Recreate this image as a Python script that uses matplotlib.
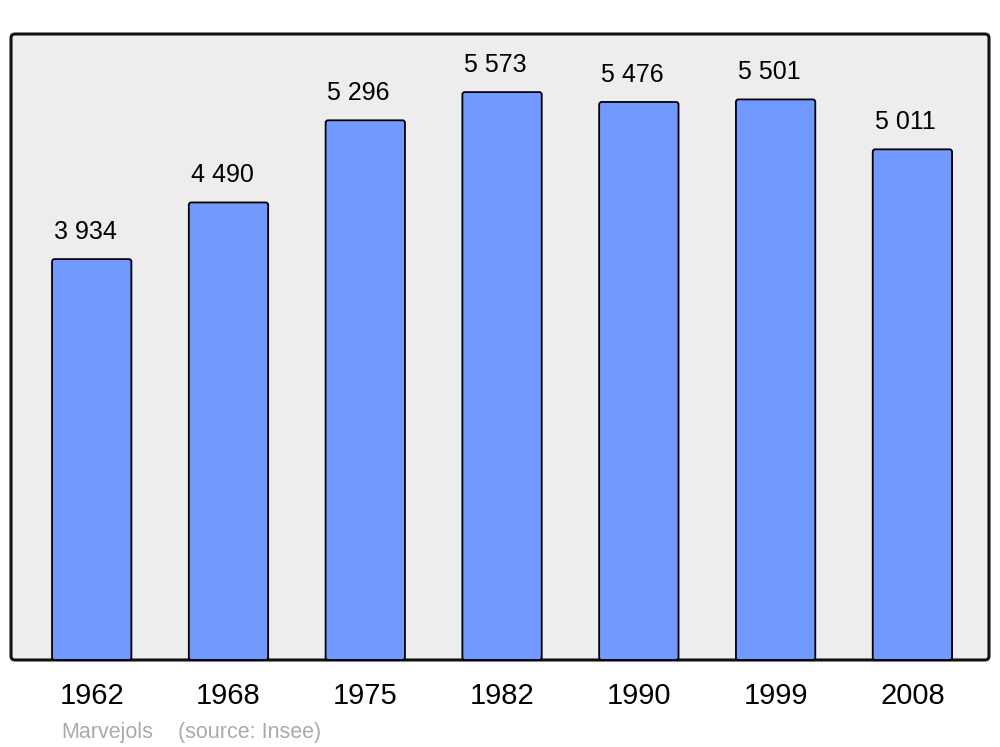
import matplotlib
matplotlib.use("Agg")
import matplotlib.pyplot as plt
from matplotlib.patches import FancyBboxPatch

years = ["1962", "1968", "1975", "1982", "1990", "1999", "2008"]
population = [3934, 4490, 5296, 5573, 5476, 5501, 5011]
value_labels = ["3 934", "4 490", "5 296", "5 573", "5 476", "5 501", "5 011"]
source_name = "Marvejols"
source_text = "(source: Insee)"

plt.rcParams['font.family'] = ['Liberation Sans', 'DejaVu Sans']

W, H = 1000, 747
fig = plt.figure(figsize=(W / 100, H / 100), dpi=100)
fig.patch.set_facecolor("white")

ax_l, ax_r, ax_t, ax_b = 11, 989, 34, 660
ax = fig.add_axes([ax_l / W, (H - ax_b) / H, (ax_r - ax_l) / W, (ax_b - ax_t) / H])
ax.set_facecolor("none")
ax.set_zorder(2)
for s in ax.spines.values():
    s.set_visible(False)

# rounded frame background
frame = FancyBboxPatch((ax_l / W, (H - ax_b) / H), (ax_r - ax_l) / W, (ax_b - ax_t) / H,
                       boxstyle="round,pad=0,rounding_size=0.004",
                       transform=fig.transFigure, facecolor="#ededed",
                       edgecolor="#111111", linewidth=2.2, zorder=-1,
                       mutation_aspect=W / H)
fig.patches.append(frame)

x = list(range(len(years)))
xmin, xmax = -0.59, 6.56
ymax = 6143
ax.set_xlim(xmin, xmax)
ax.set_ylim(0, ymax)

bars = ax.bar(x, population, width=0.58, color="#7299ff", edgecolor="black", linewidth=1.3)
px_per_x = (ax_r - ax_l) / (xmax - xmin)
px_per_y = (ax_b - ax_t) / ymax
r_px = 2.5
for b in bars:
    bx, by = b.get_x(), b.get_y()
    bw, bh = b.get_width(), b.get_height()
    p = FancyBboxPatch((bx, by), bw, bh,
                       boxstyle=f"round,pad=0,rounding_size={r_px / px_per_x}",
                       mutation_aspect=px_per_x / px_per_y,
                       facecolor="#7299ff", edgecolor="black", linewidth=1.3,
                       zorder=2, clip_on=False)
    ax.add_patch(p)
    b.set_visible(False)

for xi, v, lab in zip(x, population, value_labels):
    ax.annotate(lab, (xi, v), xytext=(-4.7, 10.8), textcoords="offset points",
                ha="center", va="bottom", fontsize=18, color="black")

ax.set_xticks(x)
ax.set_xticklabels(years, fontsize=21)
ax.tick_params(axis="x", length=0, pad=16)
ax.set_yticks([])

fig.text(61 / W, 1 - 738 / H, source_name, fontsize=15.5, color="#aaaaaa", ha="left", va="baseline")
fig.text(178 / W, 1 - 738 / H, source_text, fontsize=15.5, color="#aaaaaa", ha="left", va="baseline")

fig.savefig("out.png", dpi=100, facecolor="white")
